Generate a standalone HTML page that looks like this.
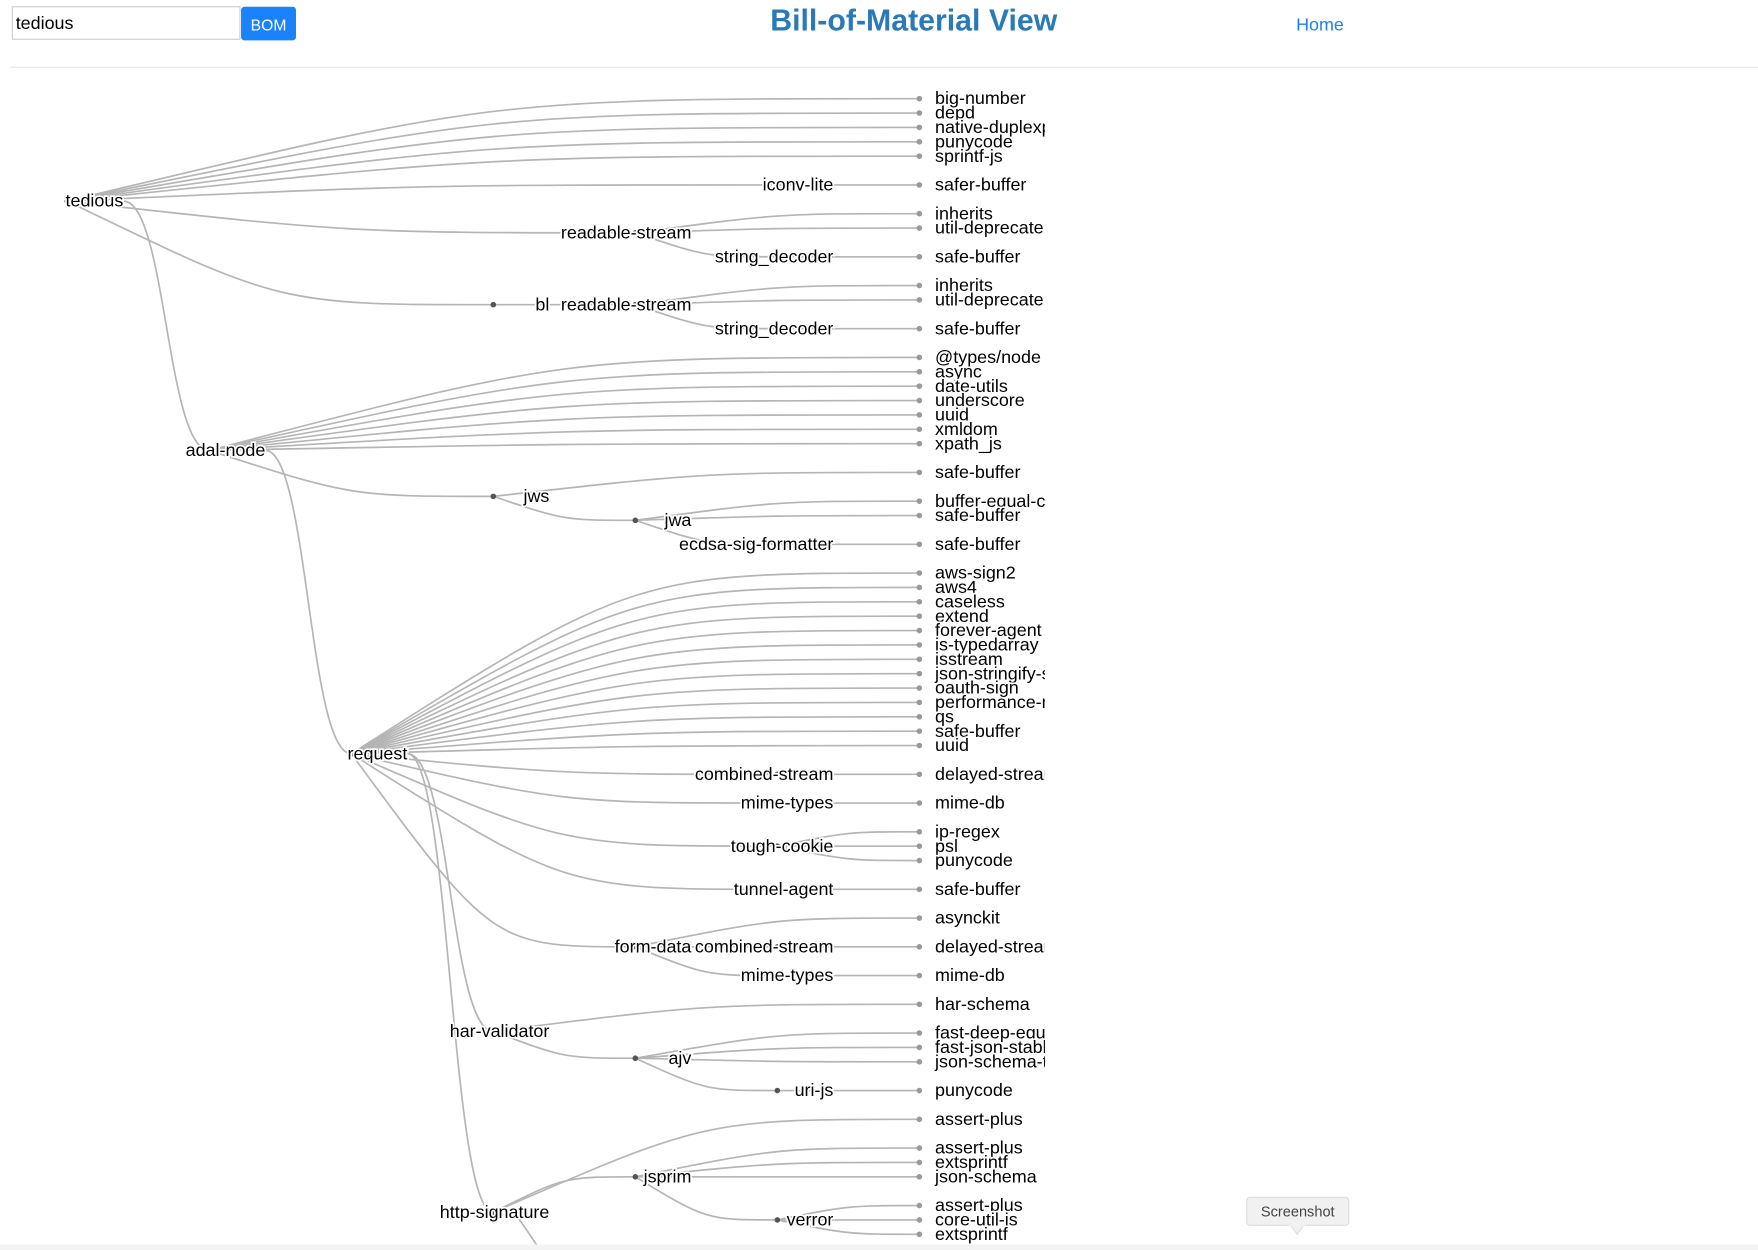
<!DOCTYPE html>
<html><head><meta charset="utf-8"><title>Bill-of-Material View</title>
<style>
html,body{margin:0;padding:0;background:#fff;overflow:hidden;}
svg{display:block;font-family:"Liberation Sans",Arial,sans-serif;}
</style></head>
<body>
<svg id="root" width="1758" height="1250" viewBox="0 0 1568 1115" preserveAspectRatio="none" xmlns="http://www.w3.org/2000/svg">
  <defs><clipPath id="clipTree"><rect x="0" y="62" width="932" height="1053"/></clipPath></defs>
  <g>
    <rect x="11" y="6" width="203" height="29" fill="#fff" stroke="#ccc" stroke-width="1"/>
    <text x="14" y="26" font-size="16" fill="#000">tedious</text>
    <rect x="215" y="6" width="49" height="30" rx="3" fill="#1a82fb"/>
    <text x="239.5" y="27" font-size="14" fill="#fff" text-anchor="middle">BOM</text>
    <text x="815" y="27" font-size="27" font-weight="bold" fill="#2a7ab8" text-anchor="middle">Bill-of-Material View</text>
    <text x="1156" y="27" font-size="16" fill="#1a7ffb">Home</text>
    <rect x="9" y="59.5" width="1559" height="1" fill="#e5e5e5"/>
  </g>
  <g id="tree" clip-path="url(#clipTree)"></g>
  <g>
    <rect x="1112" y="1068" width="91" height="25" rx="3" fill="#f1f1f1" stroke="#ddd"/>
    <path d="M1151 1093 L1157 1101 L1163 1093 Z" fill="#f1f1f1" stroke="#ddd"/>
    <rect x="1150" y="1091" width="14" height="3" fill="#f1f1f1"/>
    <text x="1157.5" y="1085" font-size="13" fill="#444" text-anchor="middle">Screenshot</text>
  </g>
  <rect x="0" y="1110" width="1568" height="5" fill="#f3f3f3"/>
</svg>
<script>
// Tree data: [name, children?]
const tree = ["tedious", [
  ["big-number"],["depd"],["native-duplexpair"],["punycode"],["sprintf-js"],
  ["iconv-lite",[["safer-buffer"]]],
  ["readable-stream",[["inherits"],["util-deprecate"],["string_decoder",[["safe-buffer"]]]]],
  ["bl",[["readable-stream",[["inherits"],["util-deprecate"],["string_decoder",[["safe-buffer"]]]]]]],
  ["adal-node",[
    ["@types/node"],["async"],["date-utils"],["underscore"],["uuid"],["xmldom"],["xpath_js"],
    ["jws",[["safe-buffer"],["jwa",[["buffer-equal-constant-time"],["safe-buffer"],["ecdsa-sig-formatter",[["safe-buffer"]]]]]]],
    ["request",[
      ["aws-sign2"],["aws4"],["caseless"],["extend"],["forever-agent"],["is-typedarray"],["isstream"],
      ["json-stringify-safe"],["oauth-sign"],["performance-now"],["qs"],["safe-buffer"],["uuid"],
      ["combined-stream",[["delayed-stream"]]],
      ["mime-types",[["mime-db"]]],
      ["tough-cookie",[["ip-regex"],["psl"],["punycode"]]],
      ["tunnel-agent",[["safe-buffer"]]],
      ["form-data",[["asynckit"],["combined-stream",[["delayed-stream"]]],["mime-types",[["mime-db"]]]]],
      ["har-validator",[["har-schema"],["ajv",[["fast-deep-equal"],["fast-json-stable-stringify"],["json-schema-traverse"],["uri-js",[["punycode"]]]]]]],
      ["http-signature",[
        ["assert-plus"],
        ["jsprim",[["assert-plus"],["extsprintf"],["json-schema"],["verror",[["assert-plus"],["core-util-is"],["extsprintf"]]]]],
        ["sshpk",[["asn1",[["safer-buffer"]]],["assert-plus"],["bcrypt-pbkdf"],["dashdash"],["ecc-jsbn"],["getpass"],["jsbn"],["safer-buffer"],["tweetnacl"],["extsprintf"]]]
      ]]
    ]]
  ]]
]];

const NS = "http://www.w3.org/2000/svg";
const g = document.getElementById("tree");
function build(a, parent){ const n={name:a[0],parent:parent,children:null}; if(a[1]) n.children=a[1].map(c=>build(c,n)); return n; }
const root = build(tree, null);
function height(n){ n.h = n.children ? 1+Math.max(...n.children.map(height)) : 0; return n.h; }
height(root);
let prev=null, pos=0;
function layout(n){
  if(!n.children){ if(prev){ pos += (prev.parent===n.parent)?1:2; } n.k=pos; prev=n; }
  else { n.children.forEach(layout); n.k = n.children.reduce((s,c)=>s+c.k,0)/n.children.length; }
}
layout(root);
const allNodes=[]; (function walk(n){allNodes.push(n); if(n.children) n.children.forEach(walk);})(root);
const verror = allNodes.find(n=>n.name==="verror");
const lastRef = verror.children[verror.children.length-1];
const unit = (1101-88)/lastRef.k;
const yOf = n => 88 + n.k*unit;
const colW = (820-60)/root.h;
const xOf = n => 60 + (root.h - n.h)*colW;

const linkG=document.createElementNS(NS,"g");


g.appendChild(linkG);
const dotG=document.createElementNS(NS,"g");


g.appendChild(dotG);
const labelG=document.createElementNS(NS,"g");


g.appendChild(labelG);

allNodes.forEach(n=>{
  if(n.parent){
    const px=xOf(n.parent), sy=yOf(n.parent), tx=xOf(n), ty=yOf(n);
    const dy=Math.abs(ty-sy), ratio=(tx-px)/Math.max(dy,0.001);
    const k=Math.max(0,Math.min(1,(ratio-0.6)/0.8));
    const sx=px+50*(1-k);
    const mx=(sx+tx)/2, c1y=sy+k*(ty-sy);
    const p=document.createElementNS(NS,"path");
    
    
    p.setAttribute("d",`M${sx},${sy}C${mx},${c1y} ${mx},${ty} ${tx},${ty}`);
    p.setAttribute("fill","none"); p.setAttribute("stroke","#b5b5b5"); p.setAttribute("stroke-width","1.5");
    linkG.appendChild(p);
  }
});
allNodes.forEach(n=>{
  const x=xOf(n), y=yOf(n);
  const c=document.createElementNS(NS,"circle");
  
  
  c.setAttribute("cx",x); c.setAttribute("cy",y); c.setAttribute("r","2.5");
  c.setAttribute("fill", n.children ? "#555" : "#999");
  dotG.appendChild(c);
  const t=document.createElementNS(NS,"text");
  
  
  t.setAttribute("font-size","16"); t.setAttribute("fill","#000");
  t.setAttribute("stroke","#fff"); t.setAttribute("stroke-width","3"); t.setAttribute("paint-order","stroke");
  t.setAttribute("y", y+5);
  if(n.children){ t.setAttribute("x", x+50); t.setAttribute("text-anchor","end"); }
  else { t.setAttribute("x", x+14); }
  t.textContent=n.name;
  labelG.appendChild(t);
});
</script>
</body></html>
